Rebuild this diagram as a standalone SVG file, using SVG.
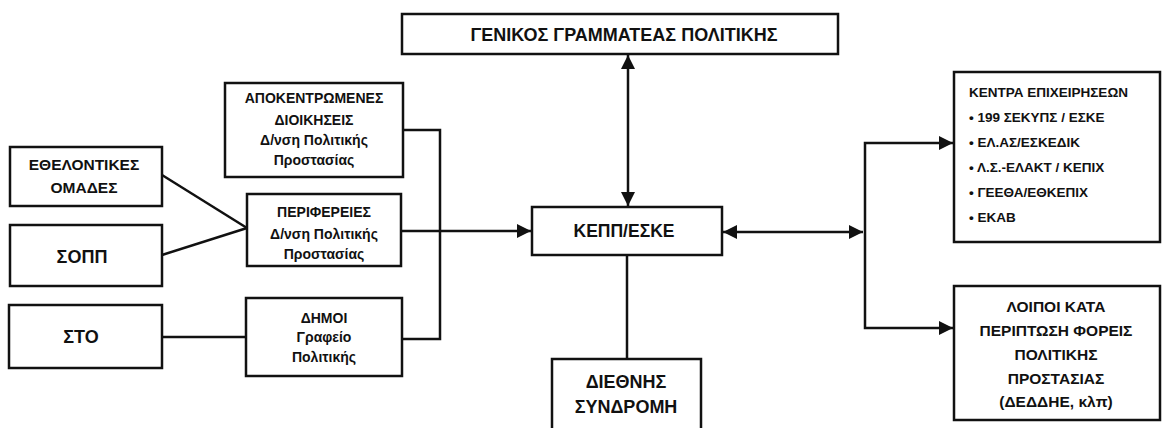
<svg xmlns="http://www.w3.org/2000/svg" width="1162" height="428" viewBox="0 0 1162 428">
<style>
.box{fill:#fff;stroke:#111;stroke-width:2.5}
.t{font-family:"Liberation Sans",Arial,sans-serif;font-weight:bold;fill:#111;text-anchor:middle}
.tl{font-family:"Liberation Sans",Arial,sans-serif;font-weight:bold;fill:#111;text-anchor:start;font-size:13.5px}
.s14{font-size:14px}
.s15{font-size:15.5px}
.s17{font-size:17.5px}
.s18{font-size:18px}
.c{fill:none;stroke:#111;stroke-width:2.5}
</style>
<defs>
<marker id="ah" viewBox="0 0 10 10" refX="10" refY="5" markerWidth="15" markerHeight="14" markerUnits="userSpaceOnUse" orient="auto-start-reverse">
<path d="M0,0 L10,5 L0,10 Z" fill="#111"/>
</marker>
</defs>
<rect width="1162" height="428" fill="#fff"/>
<g id="connectors">
<line class="c" x1="628" y1="55" x2="628" y2="206" marker-start="url(#ah)" marker-end="url(#ah)"/>
<line class="c" x1="402" y1="231" x2="531" y2="231" marker-end="url(#ah)"/>
<path class="c" d="M403,130 H440 V339 H402"/>
<line class="c" x1="162" y1="175" x2="247" y2="228"/>
<line class="c" x1="162" y1="255" x2="247" y2="228"/>
<line class="c" x1="162" y1="337" x2="246" y2="337"/>
<line class="c" x1="627" y1="255" x2="627" y2="359"/>
<line class="c" x1="723" y1="232" x2="863" y2="232" marker-start="url(#ah)" marker-end="url(#ah)"/>
<path class="c" d="M865,232 V143 H953" marker-end="url(#ah)"/>
<path class="c" d="M865,232 V328 H953" marker-end="url(#ah)"/>
</g>
<g id="n-gen">
<rect class="box" x="402" y="14" width="436" height="40"/>
<text class="t s18" x="624" y="41">ΓΕΝΙΚΟΣ ΓΡΑΜΜΑΤΕΑΣ ΠΟΛΙΤΙΚΗΣ</text>
</g>
<g id="n-apok">
<rect class="box" x="225" y="83" width="178" height="94"/>
<text class="t s14" x="314" y="103">ΑΠΟΚΕΝΤΡΩΜΕΝΕΣ</text>
<text class="t s14" x="314" y="125">ΔΙΟΙΚΗΣΕΙΣ</text>
<text class="t s14" x="314" y="145">Δ/νση Πολιτικής</text>
<text class="t s14" x="314" y="165">Προστασίας</text>
</g>
<g id="n-ethel">
<rect class="box" x="10" y="147" width="152" height="59"/>
<text class="t s15" x="84" y="170">ΕΘΕΛΟΝΤΙΚΕΣ</text>
<text class="t s15" x="84" y="193">ΟΜΑΔΕΣ</text>
</g>
<g id="n-sopp">
<rect class="box" x="10" y="225" width="152" height="61"/>
<text class="t s18" x="82" y="263">ΣΟΠΠ</text>
</g>
<g id="n-perif">
<rect class="box" x="247" y="194" width="154" height="72"/>
<text class="t s14" x="324" y="217">ΠΕΡΙΦΕΡΕΙΕΣ</text>
<text class="t s14" x="324" y="239">Δ/νση Πολιτικής</text>
<text class="t s14" x="324" y="259">Προστασίας</text>
</g>
<g id="n-sto">
<rect class="box" x="9" y="305" width="153" height="63"/>
<text class="t s18" x="81" y="343">ΣΤΟ</text>
</g>
<g id="n-dimoi">
<rect class="box" x="246" y="298" width="156" height="78"/>
<text class="t s14" x="324" y="323">ΔΗΜΟΙ</text>
<text class="t s14" x="324" y="342">Γραφείο</text>
<text class="t s14" x="324" y="362">Πολιτικής</text>
</g>
<g id="n-kepp">
<rect class="box" x="532" y="207" width="190" height="48"/>
<text class="t s17" x="624" y="237">ΚΕΠΠ/ΕΣΚΕ</text>
</g>
<g id="n-diethnis">
<rect class="box" x="552" y="359" width="149" height="80"/>
<text class="t s18" x="626" y="388">ΔΙΕΘΝΗΣ</text>
<text class="t s18" x="626" y="413">ΣΥΝΔΡΟΜΗ</text>
</g>
<g id="n-kentra">
<rect class="box" x="954" y="72" width="206" height="170"/>
<text class="tl" x="969" y="97">ΚΕΝΤΡΑ ΕΠΙΧΕΙΡΗΣΕΩΝ</text>
<text class="tl" x="969" y="122">• 199 ΣΕΚΥΠΣ / ΕΣΚΕ</text>
<text class="tl" x="969" y="147">• ΕΛ.ΑΣ/ΕΣΚΕΔΙΚ</text>
<text class="tl" x="969" y="172">• Λ.Σ.-ΕΛΑΚΤ / ΚΕΠΙΧ</text>
<text class="tl" x="969" y="197">• ΓΕΕΘΑ/ΕΘΚΕΠΙΧ</text>
<text class="tl" x="969" y="222">• ΕΚΑΒ</text>
</g>
<g id="n-loipoi">
<rect class="box" x="954" y="286" width="206" height="134"/>
<text class="t s15" x="1056" y="312">ΛΟΙΠΟΙ ΚΑΤΑ</text>
<text class="t s15" x="1056" y="336">ΠΕΡΙΠΤΩΣΗ ΦΟΡΕΙΣ</text>
<text class="t s15" x="1056" y="360">ΠΟΛΙΤΙΚΗΣ</text>
<text class="t s15" x="1056" y="384">ΠΡΟΣΤΑΣΙΑΣ</text>
<text class="t s15" x="1056" y="407">(ΔΕΔΔΗΕ, κλπ)</text>
</g>
</svg>
